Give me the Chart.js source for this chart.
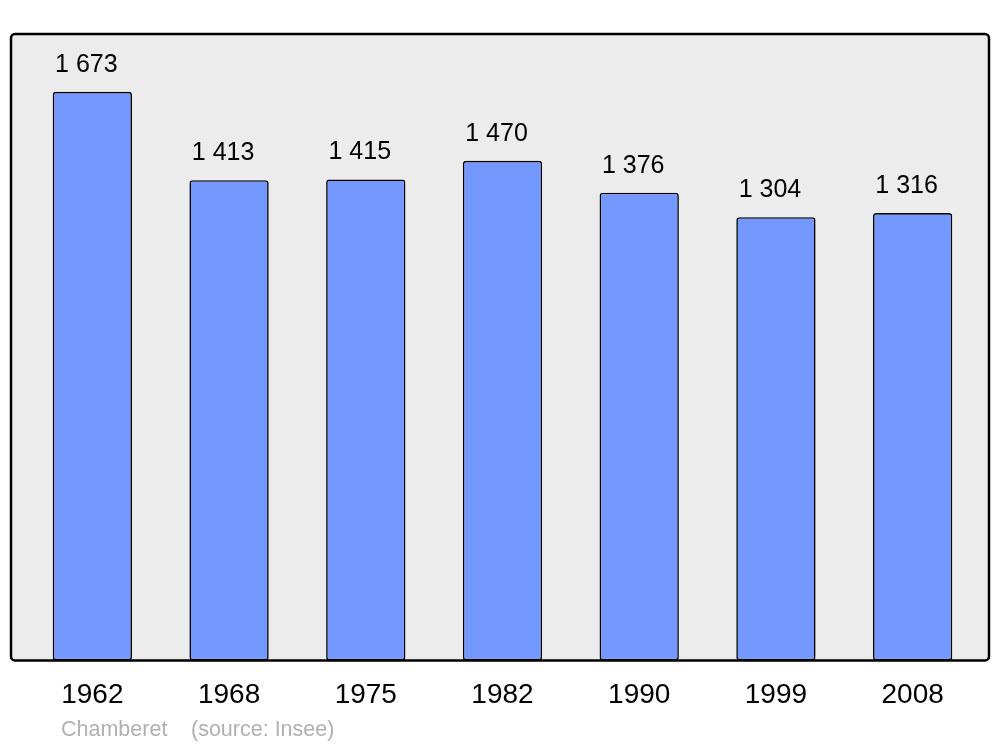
<!DOCTYPE html>
<html>
<head>
<meta charset="utf-8">
<script src="https://cdn.jsdelivr.net/npm/chart.js@4/dist/chart.umd.min.js"></script>
<style>
  html, body { margin: 0; padding: 0; background: #ffffff; }
  #wrap { width: 1000px; height: 747px; }
</style>
</head>
<body>
<div id="wrap"><canvas id="chart"></canvas></div>
<script>
// population data (Insee)
const years = ['1962', '1968', '1975', '1982', '1990', '1999', '2008'];
const population = [1673, 1413, 1415, 1470, 1376, 1304, 1316];
const townName = 'Chamberet';
const sourceLabel = '(source: Insee)';

const FONT = '"Liberation Sans", Arial, sans-serif';

// grey rounded frame behind the bars, border drawn on top
const framePlugin = {
    id: 'frame',
    frameRect(chart) {
        const a = chart.chartArea;
        return { x: a.left - 13, y: a.top, w: a.right - a.left + 21, h: a.bottom - a.top };
    },
    beforeDatasetsDraw(chart) {
        const { ctx } = chart;
        const r = this.frameRect(chart);
        ctx.save();
        ctx.fillStyle = '#ececec';
        ctx.beginPath();
        ctx.roundRect(r.x, r.y, r.w, r.h, 4);
        ctx.fill();
        ctx.restore();
    },
    afterDatasetsDraw(chart) {
        const { ctx } = chart;
        const r = this.frameRect(chart);
        ctx.save();
        ctx.strokeStyle = '#000000';
        ctx.lineWidth = 2.5;
        ctx.beginPath();
        ctx.roundRect(r.x, r.y, r.w, r.h, 4);
        ctx.stroke();

        // value labels above bars
        const meta = chart.getDatasetMeta(0);
        ctx.fillStyle = '#000000';
        ctx.font = '25px ' + FONT;
        ctx.textAlign = 'center';
        ctx.textBaseline = 'middle';
        meta.data.forEach((bar, i) => {
            const v = population[i];
            const txt = Math.floor(v / 1000) + ' ' + String(v % 1000).padStart(3, '0');
            ctx.fillText(txt, bar.x - 6, bar.y - 27);
        });

        // footer
        ctx.fillStyle = '#b0b0b0';
        ctx.font = '21.5px ' + FONT;
        ctx.textAlign = 'left';
        ctx.fillText(townName, 61, 730);
        ctx.fillText(sourceLabel, 191, 730);
        ctx.restore();
    }
};

new Chart(document.getElementById('chart'), {
    type: 'bar',
    data: {
        labels: years,
        datasets: [{
            data: population,
            backgroundColor: '#7398ff',
            borderColor: '#000000',
            borderWidth: 1.6,
            borderRadius: 3,
            borderSkipped: false,
            barPercentage: 0.58,
            categoryPercentage: 1.0
        }]
    },
    options: {
        responsive: true,
        maintainAspectRatio: false,
        animation: false,
        layout: { padding: { left: 24, right: 19, top: 34, bottom: 17 } },
        plugins: {
            legend: { display: false },
            tooltip: { enabled: false }
        },
        scales: {
            x: {
                grid: { display: false, drawTicks: false },
                border: { display: false },
                ticks: {
                    color: '#000000',
                    font: { family: FONT, size: 28 },
                    padding: 18
                }
            },
            y: {
                display: false,
                min: 0,
                max: 1843
            }
        }
    },
    plugins: [framePlugin]
});
</script>
</body>
</html>
